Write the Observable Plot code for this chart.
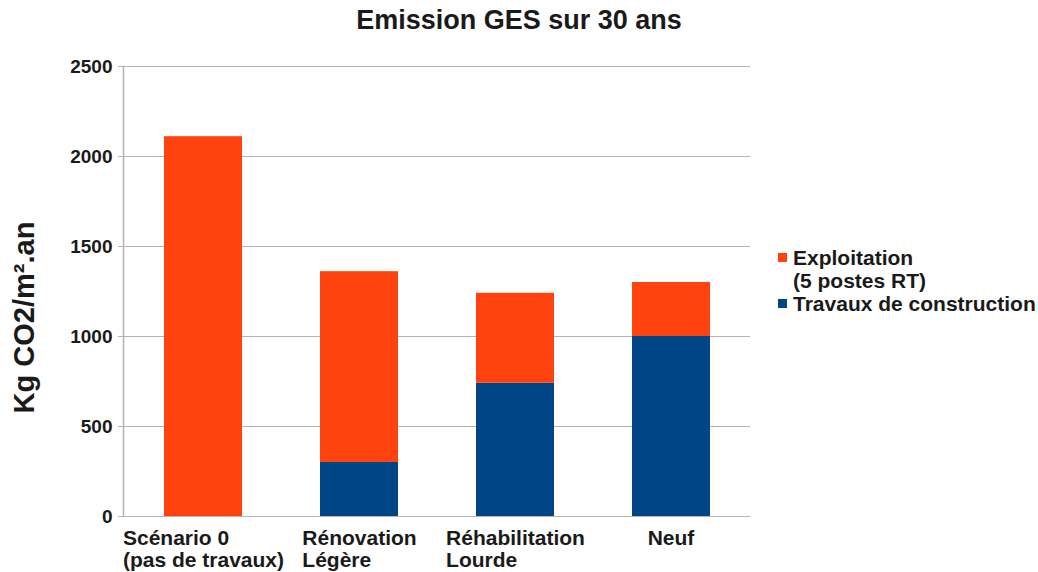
<!DOCTYPE html>
<html>
<head>
<meta charset="utf-8">
<script src="https://cdn.jsdelivr.net/npm/d3@7"></script>
<script src="https://cdn.jsdelivr.net/npm/@observablehq/plot@0.6"></script>
<style>
  html, body { margin: 0; padding: 0; background: #fff; }
  #wrap { position: relative; width: 1038px; height: 572px; font-family: "Liberation Sans", Arial, sans-serif; font-weight: bold; color: #1a1a1a; }
  #title { height: 40px; line-height: 40px; font-size: 27px; text-align: center; width: 1038px; }
  #legend { position: absolute; left: 778px; top: 246px; font-size: 21px; line-height: 23px; }
  .item { position: relative; padding-left: 15px; }
  .sw { position: absolute; left: 0; top: 7px; width: 9px; height: 9px; }
</style>
</head>
<body>
<div id="wrap">
  <div id="title">Emission GES sur 30 ans</div>
  <div id="chart"></div>
  <div id="legend"></div>
</div>
<script>
const categories = ["Scénario 0\n(pas de travaux)", "Rénovation\nLégère", "Réhabilitation\nLourde", "Neuf"];
const seriesNames = ["Exploitation\n(5 postes RT)", "Travaux de construction"];
const exploitation = [2110, 1060, 500, 300];
const travaux = [0, 300, 740, 1000];
const yTicks = [0, 500, 1000, 1500, 2000, 2500];
const colors = ["#ff420e", "#004586"];
const yLabel = "Kg CO2/m².an";

// stacking order: Travaux at the bottom, Exploitation on top
const rows = [
  ...categories.map((c, i) => ({cat: c, serie: seriesNames[1], value: travaux[i]})),
  ...categories.map((c, i) => ({cat: c, serie: seriesNames[0], value: exploitation[i]}))
];

const chart = Plot.plot({
  width: 1038,
  height: 532,
  marginTop: 26,
  marginBottom: 56,
  marginLeft: 123,
  marginRight: 288,
  style: {fontFamily: "'Liberation Sans', Arial, sans-serif", fontWeight: "bold", color: "#1a1a1a", background: "#fff"},
  x: {domain: categories, paddingInner: 0.5, paddingOuter: 0.25},
  y: {domain: [0, 2500]},
  color: {domain: seriesNames, range: colors},
  marks: [
    Plot.gridY(yTicks, {stroke: "#b3b3b3", strokeOpacity: 1, strokeWidth: 1}),
    Plot.frame({anchor: "left", stroke: "#b3b3b3", strokeWidth: 1.5}),
    Plot.barY(rows, {x: "cat", y: "value", fill: "serie"}),
    Plot.axisY(yTicks, {
      tickSize: 5, tickPadding: 6, stroke: "#b3b3b3", fontSize: 19, fill: "#1a1a1a",
      tickFormat: d => String(d),
      label: yLabel, labelAnchor: "center", labelArrow: "none", labelOffset: 110
    }),
    Plot.axisX({tickSize: 0, tickPadding: 13, fontSize: 21, lineHeight: 1.05, label: null, fill: "#1a1a1a"})
  ]
});
document.getElementById("chart").appendChild(chart);

// y label: size and vertical centre as in the reference
chart.querySelectorAll('[aria-label="y-axis label"] text').forEach(t => {
  t.setAttribute("font-size", 29);
  t.style.fontSize = "29px";
  const tr = t.getAttribute("transform") || "";
  t.setAttribute("transform", "translate(0,26) " + tr);
});

// x tick labels: block centred, lines left-aligned
chart.querySelectorAll('[aria-label="x-axis tick label"] text').forEach(t => {
  const w = t.getBBox().width;
  t.setAttribute("text-anchor", "start");
  const spans = t.querySelectorAll("tspan");
  if (spans.length) spans.forEach(s => s.setAttribute("x", -w / 2));
  else t.setAttribute("x", -w / 2);
});

// legend
const legend = document.getElementById("legend");
seriesNames.forEach((name, i) => {
  const div = document.createElement("div");
  div.className = "item";
  const sw = document.createElement("span");
  sw.className = "sw";
  sw.style.background = colors[i];
  div.appendChild(sw);
  name.split("\n").forEach((line, j) => {
    if (j) div.appendChild(document.createElement("br"));
    div.appendChild(document.createTextNode(line));
  });
  legend.appendChild(div);
});
</script>
</body>
</html>
